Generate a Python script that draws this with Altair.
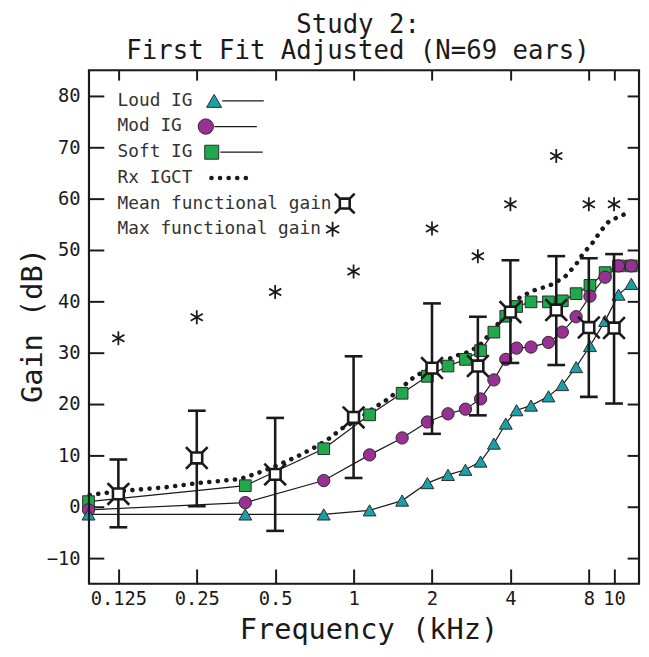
import altair as alt
import pandas as pd

# ---------------- data ----------------
ig_freq = [0.096, 0.384, 0.768, 1.152, 1.536, 1.92, 2.304, 2.688, 3.072, 3.456,
           3.84, 4.224, 4.8, 5.6, 6.33, 7.15, 8.08, 9.24, 10.4, 11.65]
loud_ig = [-1.5, -1.5, -1.5, -0.7, 1.2, 4.6, 6.2, 7.2, 8.8, 12.3,
           16.2, 18.8, 19.7, 21.5, 23.7, 27.2, 31.3, 36.2, 41.3, 43.4]
mod_ig = [-0.6, 0.8, 5.1, 10.1, 13.4, 16.5, 18.1, 19.0, 21.0, 24.7,
          28.7, 30.9, 31.1, 32.0, 34.0, 37.0, 41.0, 44.7, 46.9, 46.9]
soft_ig = [1.0, 4.1, 11.3, 17.9, 22.1, 25.4, 27.4, 28.7, 30.4, 34.0,
           37.1, 39.0, 39.9, 39.9, 40.1, 41.5, 43.1, 45.6, 46.9, 46.9]

rx_freq = [0.097, 0.125, 0.19, 0.252, 0.367, 0.425, 0.506, 0.603, 0.718, 0.806,
           0.906, 1.047, 1.21, 1.36, 1.72, 2.05, 2.44, 2.82, 3.12, 3.31,
           3.56, 3.88, 4.36, 4.9, 5.67, 6.46, 7.15, 7.58, 8.27, 8.89, 9.57, 10.9]
rx_igct = [2.3, 3.0, 3.8, 4.6, 5.4, 6.5, 8.0, 9.7, 11.7, 13.3,
           15.3, 17.1, 19.4, 21.0, 25.4, 27.4, 29.3, 30.3, 31.9, 33.5,
           35.4, 38.3, 40.8, 42.1, 43.1, 44.7, 47.2, 49.2, 51.4, 53.7, 55.6, 56.9]

fg_freq = [0.125, 0.25, 0.5, 1, 2, 3, 4, 6, 8, 10]
fg_mean = [2.5, 9.5, 6.3, 17.4, 27.0, 27.4, 37.9, 38.3, 34.9, 34.8]
fg_upper = [9.2, 18.7, 17.3, 29.3, 39.6, 37.0, 48.0, 48.8, 48.4, 49.2]
fg_lower = [-4.0, 0.1, -4.7, 5.6, 14.2, 17.8, 28.0, 27.6, 21.4, 20.1]
fg_max = [32.8, 36.9, 41.8, 45.8, 54.2, 48.8, 58.9, 68.3, 58.9, 58.9]

x_ticks = [0.125, 0.25, 0.5, 1, 2, 4, 8, 10]
y_ticks = [-10, 0, 10, 20, 30, 40, 50, 60, 70, 80]
series_names = ["Loud IG", "Mod IG", "Soft IG"]
legend_labels = ["Loud IG", "Mod IG", "Soft IG", "Rx IGCT",
                 "Mean functional gain", "Max functional gain"]
title_lines = ["Study 2:", "First Fit Adjusted (N=69 ears)"]

# ---------------- styling ----------------
FONT = "DejaVu Sans Mono"
INK = "#1a1a1a"
TEAL, PURPLE, GREEN = "#1aa0a6", "#993094", "#1fa84c"
W, H = 557, 520
MEAN_SHAPE = ("M-0.5,-0.5L0.5,-0.5L0.5,0.5L-0.5,0.5Z"
              "M-0.5,-0.5L-1,-1M0.5,-0.5L1,-1M0.5,0.5L1,1M-0.5,0.5L-1,1")
ASTER_SHAPE = "M0,-1L0,1M-0.87,-0.5L0.87,0.5M-0.87,0.5L0.87,-0.5"

xscale = alt.Scale(type="log", domain=[0.0964, 12.47], nice=False)
yscale = alt.Scale(domain=[-15, 85], nice=False, zero=False)

ax_bottom = alt.Axis(orient="bottom", values=x_ticks, format="~g", tickSize=15, offset=-15,
                     domain=False, grid=False, labelPadding=6, labelFont=FONT, labelFontSize=19,
                     labelColor=INK, labelOverlap=False, labelFlush=False, tickColor=INK,
                     tickWidth=2, title="Frequency (kHz)", titleFont=FONT, titleFontSize=29,
                     titleFontWeight="normal", titleColor=INK, titleX=283, titleY=70,
                     titleBaseline="alphabetic", titleAlign="center", titleAngle=0)
ax_left = alt.Axis(orient="left", values=y_ticks, format="d", tickSize=15, offset=-15,
                   domain=False, grid=False, labelPadding=9, labelFont=FONT, labelFontSize=19,
                   labelColor=INK, labelOverlap=False, labelFlush=False, tickColor=INK, tickWidth=2,
                   title="Gain (dB)", titleFont=FONT, titleFontSize=29, titleFontWeight="normal",
                   titleColor=INK, titleX=-57, titleY=258, titleAngle=-90,
                   titleBaseline="bottom", titleAlign="center")
ax_top = alt.Axis(orient="top", values=x_ticks, labels=False, tickSize=10, offset=-10,
                  domain=False, grid=False, tickColor=INK, tickWidth=2, title=None)
ax_right = alt.Axis(orient="right", values=y_ticks, labels=False, tickSize=12, offset=-12,
                    domain=False, grid=False, tickColor=INK, tickWidth=2, title=None)


def X(field="freq", axis=None):
    return alt.X(f"{field}:Q", scale=xscale, axis=axis)


def Y(field, axis=None):
    return alt.Y(f"{field}:Q", scale=yscale, axis=axis)


# ---------------- tables ----------------
ig_df = pd.DataFrame({
    "freq": ig_freq * 3,
    "gain": loud_ig + mod_ig + soft_ig,
    "series": sum([[s] * len(ig_freq) for s in series_names], []),
})
marker_df = pd.concat([ig_df[ig_df.series == s] for s in ["Soft IG", "Mod IG", "Loud IG"]])
rx_df = pd.DataFrame({"freq": rx_freq, "gain": rx_igct})
fg_df = pd.DataFrame({"freq": fg_freq, "mean": fg_mean, "upper": fg_upper,
                      "lower": fg_lower, "max": fg_max})
cap_df = pd.DataFrame({"freq": fg_freq * 2, "val": fg_upper + fg_lower})
one = pd.DataFrame({"k": [0]})

# ---------------- layers ----------------
frame = alt.Chart(one).mark_rect(fill="transparent", stroke=INK, strokeWidth=2.2).encode(
    x=alt.value(0), x2=alt.value(W), y=alt.value(0), y2=alt.value(H))

ig_lines = alt.Chart(ig_df).mark_line(color=INK, strokeWidth=1.2).encode(
    x=X(axis=ax_bottom), y=Y("gain", ax_left), detail="series:N")

rx_line = alt.Chart(rx_df).mark_line(color=INK, strokeWidth=4.6, strokeDash=[0.1, 8.6],
                                     strokeCap="round").encode(
    x=X(axis=ax_top), y=Y("gain", ax_right))

ig_points = alt.Chart(marker_df).mark_point(filled=True, opacity=1, stroke="#2a2a2a",
                                            strokeWidth=1).encode(
    x=X(), y=Y("gain"),
    shape=alt.Shape("series:N", scale=alt.Scale(domain=series_names,
                                                range=["triangle-up", "circle", "square"]),
                    legend=None),
    fill=alt.Fill("series:N", scale=alt.Scale(domain=series_names, range=[TEAL, PURPLE, GREEN]),
                  legend=None),
    size=alt.Size("series:N", scale=alt.Scale(domain=series_names, range=[170, 140, 130]),
                  legend=None),
)

err_rules = alt.Chart(fg_df).mark_rule(color=INK, strokeWidth=2.6).encode(
    x=X(), y=Y("lower"), y2="upper:Q")
err_caps = alt.Chart(cap_df).mark_tick(orient="horizontal", color=INK, size=18,
                                       thickness=2.6, opacity=1).encode(x=X(), y=Y("val"))

mean_pts = alt.Chart(fg_df).mark_point(shape=MEAN_SHAPE, size=484, filled=True, fill="white",
                                       stroke=INK, strokeWidth=2.6, opacity=1).encode(
    x=X(), y=Y("mean"))
max_pts = alt.Chart(fg_df).mark_point(shape=ASTER_SHAPE, size=200, stroke=INK,
                                      strokeWidth=1.8, opacity=1).encode(x=X(), y=Y("max"))

# ---------------- custom legend ----------------
row_y = [31, 57, 83, 109, 135, 161]
leg_layers = []
for lbl, yy in zip(legend_labels, row_y):
    leg_layers.append(
        alt.Chart(one).mark_text(text=lbl, font=FONT, fontSize=18, color="#333",
                                 align="left", baseline="middle").encode(
            x=alt.value(29), y=alt.value(yy)))

sym_specs = [
    ("triangle-up", TEAL, 230, 126.7, row_y[0]),
    ("circle", PURPLE, 240, 118.3, row_y[1]),
    ("square", GREEN, 200, 124.3, row_y[2]),
]
line_specs = [(135, 177, row_y[0]), (127, 170, row_y[1]), (133, 176, row_y[2])]
for (x1, x2, yy) in line_specs:
    leg_layers.append(alt.Chart(one).mark_rule(color=INK, strokeWidth=1.3).encode(
        x=alt.value(x1), x2=alt.value(x2), y=alt.value(yy)))
for (shp, col, sz, xx, yy) in sym_specs:
    leg_layers.append(alt.Chart(one).mark_point(shape=shp, filled=True, fill=col, size=sz,
                                                stroke="#2a2a2a", strokeWidth=1, opacity=1).encode(
        x=alt.value(xx), y=alt.value(yy)))
leg_layers.append(alt.Chart(one).mark_rule(color=INK, strokeWidth=4.6, strokeDash=[0.1, 8.6],
                                           strokeCap="round").encode(
    x=alt.value(124), x2=alt.value(165), y=alt.value(row_y[3])))
leg_layers.append(alt.Chart(one).mark_point(shape=MEAN_SHAPE, size=400, filled=True, fill="white",
                                            stroke=INK, strokeWidth=2.6, opacity=1).encode(
    x=alt.value(259), y=alt.value(row_y[4])))
leg_layers.append(alt.Chart(one).mark_point(shape=ASTER_SHAPE, size=230, stroke=INK,
                                            strokeWidth=1.8, opacity=1).encode(
    x=alt.value(246.7), y=alt.value(row_y[5])))

chart = alt.layer(
    ig_lines, rx_line, ig_points, err_rules, err_caps, mean_pts, max_pts, frame, *leg_layers
).resolve_axis(x="independent", y="independent").properties(
    width=W, height=H,
    autosize=alt.AutoSizeParams(type="none"),
    padding={"left": 82, "top": 59, "right": 2, "bottom": 62},
    title=alt.TitleParams(text=title_lines, font=FONT, fontSize=26, fontWeight="normal",
                          color=INK, anchor="middle", frame="group", dx=-6, dy=24, offset=3,
                          baseline="bottom", lineHeight=27),
).configure_view(stroke="transparent").configure(background="white")

chart.save("out.html", embed_options={"renderer": "svg", "actions": False})
